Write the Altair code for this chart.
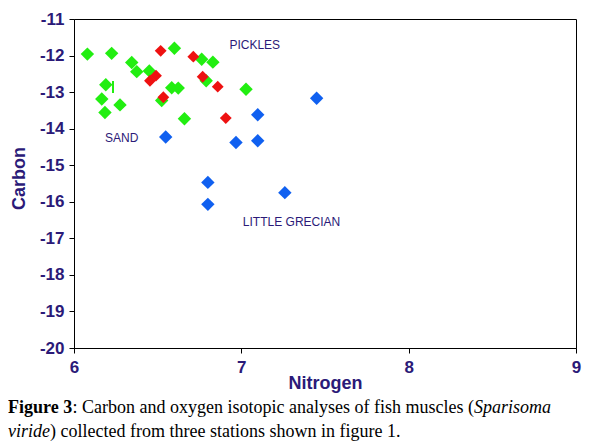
import altair as alt
import pandas as pd

# --- data ---
sand_n = [6.08, 6.225, 6.60, 6.345, 6.375, 6.45, 6.763, 6.83, 6.19, 6.166, 6.275, 6.185,
          6.524, 6.584, 6.623, 6.79, 7.028, 6.66]
sand_c = [-11.96, -11.94, -11.80, -12.19, -12.44, -12.42, -12.10, -12.18, -12.80, -13.19,
          -13.35, -13.56, -13.23, -12.88, -12.89, -12.69, -12.92, -13.73]

pickles_n = [6.518, 6.713, 6.49, 6.454, 6.769, 6.859, 6.534, 6.907]
pickles_c = [-11.87, -12.03, -12.55, -12.69, -12.58, -12.85, -13.14, -13.71]

grecian_n = [7.45, 7.098, 6.548, 6.968, 7.098, 6.80, 6.80, 7.26]
grecian_c = [-13.17, -13.62, -14.23, -14.38, -14.33, -15.47, -16.07, -15.75]

mark_n = [6.233]
mark_c = [-12.86]

label_text = ["PICKLES", "SAND", "LITTLE GRECIAN"]
label_n = [7.08, 6.285, 7.30]
label_c = [-11.71, -14.26, -16.54]

x_ticks = [6, 7, 8, 9]
y_ticks = [-20, -19, -18, -17, -16, -15, -14, -13, -12, -11]

cap1 = ["Figure 3", ": Carbon and oxygen isotopic analyses of fish muscles (", "Sparisoma"]
cap2 = ["viride", ") collected from three stations shown in figure 1."]

W, H = 502, 329
AX = "#2B1A78"

xs = alt.Scale(domain=[6, 9], nice=False, zero=False)
ys = alt.Scale(domain=[-20, -11], nice=False, zero=False)

def pts(n, c):
    return pd.DataFrame({"Nitrogen": n, "Carbon": c})

xenc = alt.X("Nitrogen:Q", scale=xs,
             axis=alt.Axis(values=x_ticks, title="Nitrogen", grid=False, labelFlush=False,
                           labelExpr="'' + datum.value", labelOverlap=False))
yenc = alt.Y("Carbon:Q", scale=ys,
             axis=alt.Axis(values=y_ticks, title="Carbon", grid=False, labelFlush=False,
                           labelExpr="'' + datum.value", labelOverlap=False))

green = alt.Chart(pts(sand_n, sand_c)).mark_point(
    shape="diamond", filled=True, size=180, color="#22EE11", opacity=1
).encode(x=xenc, y=yenc)

tick = alt.Chart(pts(mark_n, mark_c)).mark_tick(
    orient="vertical", size=12, thickness=2, color="#22EE11", opacity=1
).encode(x=xenc, y=yenc)

red = alt.Chart(pts(pickles_n, pickles_c)).mark_point(
    shape="diamond", filled=True, size=140, color="#EE1111", opacity=1
).encode(x=xenc, y=yenc)

blue = alt.Chart(pts(grecian_n, grecian_c)).mark_point(
    shape="diamond", filled=True, size=180, color="#1060F0", opacity=1
).encode(x=xenc, y=yenc)

labels = alt.Chart(pd.DataFrame({"t": label_text, "Nitrogen": label_n, "Carbon": label_c})).mark_text(
    font="Liberation Sans", fontSize=12, color=AX, align="center", baseline="middle"
).encode(x=xenc, y=yenc, text="t:N")

def cap(text, x, y, style):
    kw = dict(font="Liberation Serif", fontSize=18, color="black", align="left",
              baseline="alphabetic")
    if style == "bold":
        kw["fontWeight"] = "bold"
    if style == "italic":
        kw["fontStyle"] = "italic"
    return alt.Chart(pd.DataFrame({"t": [text]})).mark_text(**kw).encode(
        x=alt.value(x), y=alt.value(y), text="t:N")

caps = [
    cap(cap1[0], -66, 394, "bold"),
    cap(cap1[1], -1.5, 394, "normal"),
    cap(cap1[2], 400, 394, "italic"),
    cap(cap2[0], -66, 418, "italic"),
    cap(cap2[1], -24, 418, "normal"),
]

chart = alt.layer(green, tick, red, blue, labels, *caps).properties(
    width=W, height=H,
    autosize=alt.AutoSizeParams(type="none"),
    padding={"left": 66, "top": 11, "right": 14, "bottom": 93},
    background="white",
).configure_view(
    stroke="black", strokeWidth=1
).configure_axis(
    domainColor="black", tickColor="black", tickSize=5,
    labelFont="Liberation Sans", labelFontWeight="bold", labelFontSize=17, labelColor=AX,
    titleFont="Liberation Sans", titleFontWeight="bold", titleFontSize=18, titleColor=AX,
).configure_axisX(
    labelPadding=6, titleY=35, titleBaseline="middle"
).configure_axisY(
    labelPadding=5, titleX=-55, titleY=159, titleBaseline="middle", titleAngle=-90
)

chart.save("out.html", embed_options={"renderer": "svg", "actions": False})
